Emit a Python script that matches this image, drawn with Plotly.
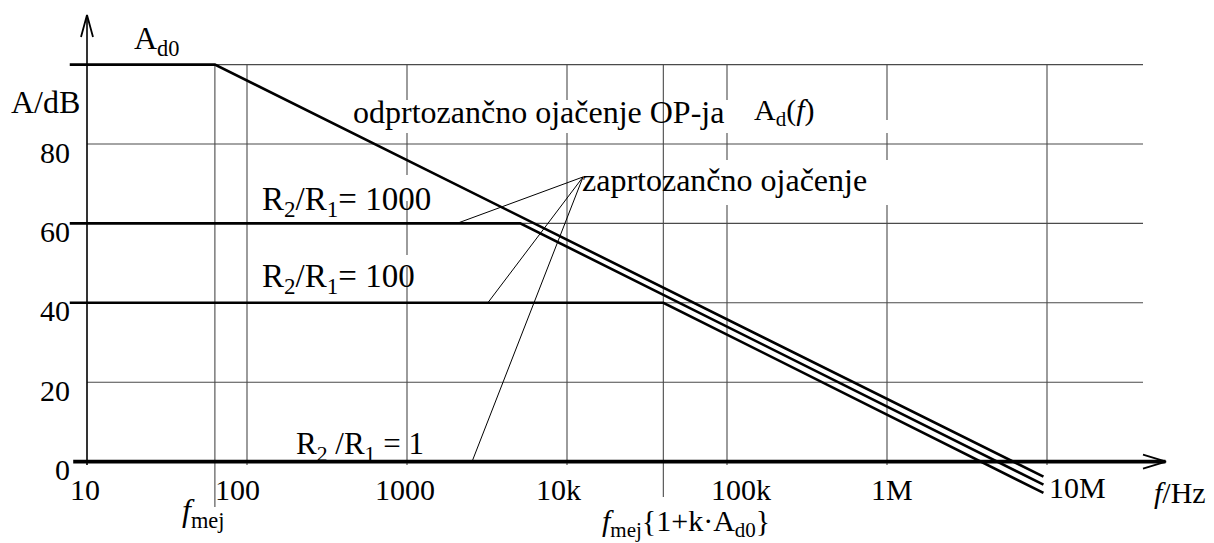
import numpy as np
import plotly.graph_objects as go

W, H = 1214, 543
FONT = "Liberation Serif"

# ---- amplifier data (frequency in Hz, gain in dB) ----
A_D0 = 100
F_MEJ = 63
# open-loop gain A_d(f): corner points
open_f = [7.8, 63, 9.5e6]
open_db = [100, 100, -3.8]
# closed-loop gain for R2/R1 = 1000, 100, 1
cl1000_f = [7.8, 5100, 9.5e6]
cl1000_db = [60, 60, -5.8]
cl100_f = [7.8, 40000, 9.5e6]
cl100_db = [40, 40, -7.9]
cl1_f = [8.2, 5.5e7]
cl1_db = [0, 0]

# grid and ticks
grid_db = [20, 40, 60, 80, 100]
grid_f = [63, 100, 1e3, 1e4, 4e4, 1e5, 1e6, 1e7]
xtick_vals = [10, 100, 1e3, 1e4, 1e5, 1e6, 1e7]
xtick_text = ["10", "100", "1000", "10k", "100k", "1M", "10M"]
ytick_vals = [0, 20, 40, 60, 80]
ytick_text = ["0", "20", "40", "60", "80"]

# leader lines of the "zaprtozančno ojačenje" label
leader_hub = (12600, 71.7)
leader_f = [2050, 3200, 2550]
leader_db = [60, 40, 0]

# ---- axis mapping: 160 px per decade, 3.97 px per dB ----
X_PX_DEC = 160.0
X0_PX = 87.0           # pixel of 10 Hz
Y_PX_DB = 3.97
Y0_PX = 461.6          # pixel of 0 dB
x_range = [1 - X0_PX / X_PX_DEC, 1 + (W - X0_PX) / X_PX_DEC]
y_range = [(Y0_PX - H) / Y_PX_DB, Y0_PX / Y_PX_DB]


def db_at(y_px):
    return (Y0_PX - y_px) / Y_PX_DB


# vertical grid lines are interrupted behind the text labels (pixel rows)
grid_gaps = {
    1e3: [(100, 133), (175, 201), (255, 267)],
    1e4: [(100, 133)],
    1e5: [(100, 133), (160, 205)],
    1e6: [(120, 133), (160, 205)],
}
grid_bottom = {63: 507, 4e4: 497}

fig = go.Figure()


def line(xs, ys, width, color="black"):
    fig.add_trace(go.Scatter(x=xs, y=ys, mode="lines",
                             line=dict(color=color, width=width),
                             hoverinfo="skip", showlegend=False))


# grid
gx, gy = [], []
for d in grid_db:
    gx += [10, 10 ** 7.6, None]
    gy += [d, d, None]
for f in grid_f:
    top = 100
    for g0, g1 in grid_gaps.get(f, []):
        gx += [f, f, None]
        gy += [top, db_at(g0), None]
        top = db_at(g1)
    gx += [f, f, None]
    gy += [top, db_at(grid_bottom.get(f, 465)), None]
line(gx, gy, 1.1, "#4a4a4a")

# leader lines
lx, ly = [], []
for f, d in zip(leader_f, leader_db):
    lx += [leader_hub[0], f, None]
    ly += [leader_hub[1], d, None]
line(lx, ly, 1.0)

# gain curves
line(open_f, open_db, 2.6)
line(cl1000_f, cl1000_db, 2.6)
line(cl100_f, cl100_db, 2.6)

# axes with open arrowheads
dx_arrow = 6 / X_PX_DEC
line([10, 10], [db_at(465), db_at(15)], 1.6)
line([10 ** (1 - dx_arrow), 10, 10 ** (1 + dx_arrow)],
     [db_at(37), db_at(15), db_at(37)], 1.8)
line(cl1_f, cl1_db, 3.6)
tip = 1 + (1166 - X0_PX) / X_PX_DEC
base = 1 + (1143 - X0_PX) / X_PX_DEC
line([10 ** base, 10 ** tip, 10 ** base],
     [7 / Y_PX_DB, 0, -7 / Y_PX_DB], 1.8)


def px(x):
    return x / W


def py(y):
    return 1 - y / H


anns = []


def text(t, x, y, size=30, xanchor="left", xref="paper", yref="paper", **kw):
    anns.append(dict(text=t, x=x, y=y, xref=xref, yref=yref, xanchor=xanchor,
                     yanchor="middle", showarrow=False, borderpad=0,
                     font=dict(family=FONT, size=size, color="black"), **kw))


# x tick labels (placed under the grid lines)
x_shift = [-2, -10, -2, -9, 14, 5, 30]
for v, t, s in zip(xtick_vals, xtick_text, x_shift):
    text(t, np.log10(v), py(489 if t != "10M" else 487), size=30,
         xanchor="center", xref="x", xshift=s)
# y tick labels
for v, t in zip(ytick_vals, ytick_text):
    text(t, px(71), v, size=30, xanchor="right", yref="y", yshift=-8)

text("A<sub>d0</sub>", px(133), py(40), size=32)
text("A/dB", px(10), py(102), size=32)
text("<i>f</i>/Hz", px(1153), py(492), size=30)
text("<i>f</i><sub>mej</sub>", px(181), py(512), size=32)
text("<i>f</i><sub>mej</sub>{1+k\u00b7A<sub>d0</sub>}", px(601), py(523), size=30)
text("odprtozančno ojačenje OP-ja", px(352), py(112), size=32)
text("A<sub>d</sub>(<i>f</i>)", px(753), py(112), size=30)
text("zaprtozančno ojačenje", px(581), py(180), size=32)
text("R<sub>2</sub>/R<sub>1</sub>= 1000", px(261), py(202), size=33)
text("R<sub>2</sub>/R<sub>1</sub>= 100", px(261), py(278), size=33)
text("R<sub>2</sub> /R<sub>1</sub> = 1", px(295), py(446), size=31)

fig.update_layout(
    width=W, height=H,
    margin=dict(l=0, r=0, t=0, b=0),
    paper_bgcolor="white", plot_bgcolor="white",
    xaxis=dict(type="log", range=x_range, visible=False),
    yaxis=dict(range=y_range, visible=False),
    annotations=anns,
    showlegend=False,
)

fig.write_html("out.html")
